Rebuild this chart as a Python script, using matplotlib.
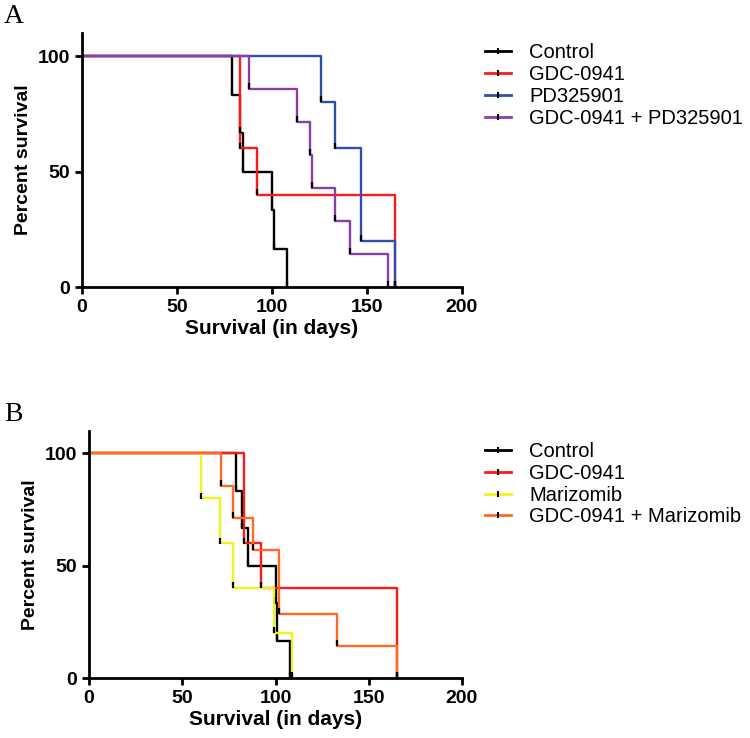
import numpy as np
import matplotlib.pyplot as plt
from matplotlib.lines import Line2D

plt.rcParams["font.family"] = ["Liberation Sans", "DejaVu Sans"]

# =========================
# DATA (days of death per group)
# =========================

a_groups = ["Control", "GDC-0941", "PD325901", "GDC-0941 + PD325901"]
a_control = [79, 83, 85, 100, 101, 108]
a_gdc = [83, 83, 92, 165, 165]
a_pd = [126, 133, 147, 147, 165]
a_combo = [88, 113, 120, 121, 133, 141, 161]

b_groups = ["Control", "GDC-0941", "Marizomib", "GDC-0941 + Marizomib"]
b_control = [79, 82, 85, 100, 101, 108]
b_gdc = [83, 83, 92, 165, 165]
b_mari = [60, 70, 77, 99, 109]
b_combo = [71, 77, 88, 102, 102, 133, 165]

a_colors = ["#000000", "#ff1a1a", "#2f4fb0", "#8a3fa8"]
b_colors = ["#000000", "#ff1a1a", "#f2f21a", "#ff6a26"]


def km_curve(deaths):
    t = np.sort(np.array(deaths, dtype=float))
    n = len(t)
    uniq = np.unique(t)
    surv = []
    alive = n
    for u in uniq:
        alive -= np.sum(t == u)
        surv.append(100.0 * alive / n)
    xs = np.concatenate([[0], uniq])
    ys = np.concatenate([[100], surv])
    return xs, ys


def draw_panel(ax, series, names, colors, letter, leg_y):
    for deaths, color in zip(series, colors):
        xs, ys = km_curve(deaths)
        ax.step(xs, ys, where="post", color=color, lw=1.7, zorder=2)
        ax.plot(xs[1:], ys[1:] + 1.2, ls="none", marker="|",
                ms=4, mew=1.6, color="black", zorder=3)

    ax.set_xlim(0, 200)
    ax.set_ylim(0, 110)
    ax.set_xticks([0, 50, 100, 150, 200])
    ax.set_yticks([0, 50, 100])
    ax.spines["top"].set_visible(False)
    ax.spines["right"].set_visible(False)
    ax.spines["left"].set_linewidth(2)
    ax.spines["bottom"].set_linewidth(2)
    ax.tick_params(width=2, length=5, labelsize=14)
    for lab in ax.get_xticklabels() + ax.get_yticklabels():
        lab.set_fontweight("bold")
    ax.set_xlabel("Survival (in days)", fontsize=15, fontweight="bold",
                  labelpad=2)
    ax.set_ylabel("Percent survival", fontsize=14, fontweight="bold")

    handles = [
        Line2D([0], [0], color=c, lw=2, marker="|", ms=5, mew=1.5,
               markeredgecolor="black")
        for c in colors
    ]
    ax.legend(handles, names, loc="upper left",
              bbox_to_anchor=(0.636, leg_y), bbox_transform=fig.transFigure,
              frameon=False, fontsize=14.5, handlelength=1.3,
              labelspacing=0.14, handletextpad=0.9, borderaxespad=0)

    fig.text(0.005, ax.get_position().y1 + 0.005, letter,
             family="Liberation Serif", fontsize=20, va="bottom")


fig = plt.figure(figsize=(7.5, 7.38), dpi=100)

ax_a = fig.add_axes([0.1093, 0.6111, 0.5067, 0.3442])
ax_b = fig.add_axes([0.1187, 0.0813, 0.4973, 0.3347])

draw_panel(ax_a, [a_control, a_gdc, a_pd, a_combo], a_groups, a_colors,
           "A", 0.952)
draw_panel(ax_b, [b_control, b_gdc, b_mari, b_combo], b_groups, b_colors,
           "B", 0.412)

fig.savefig("out.png", dpi=100)
